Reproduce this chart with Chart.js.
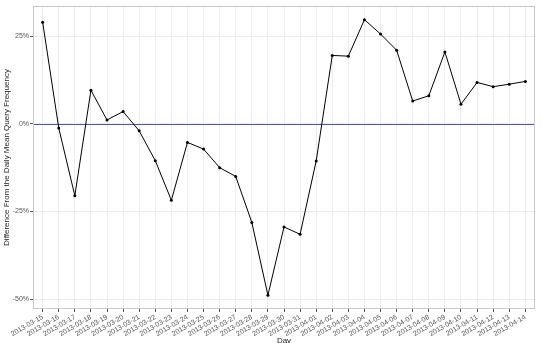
<!DOCTYPE html>
<html>
<head>
<meta charset="utf-8">
<script src="https://cdn.jsdelivr.net/npm/chart.js@4/dist/chart.umd.min.js"></script>
<style>
html,body{margin:0;padding:0;background:#fff;}
#wrap{width:542px;height:343px;position:relative;}
</style>
</head>
<body>
<div id="wrap"><canvas id="c" width="542" height="343"></canvas></div>
<script>
const days = ["2013-03-15","2013-03-16","2013-03-17","2013-03-18","2013-03-19","2013-03-20","2013-03-21","2013-03-22","2013-03-23","2013-03-24","2013-03-25","2013-03-26","2013-03-27","2013-03-28","2013-03-29","2013-03-30","2013-03-31","2013-04-01","2013-04-02","2013-04-03","2013-04-04","2013-04-05","2013-04-06","2013-04-07","2013-04-08","2013-04-09","2013-04-10","2013-04-11","2013-04-12","2013-04-13","2013-04-14"];
const diffPct = [29.0,-1.2,-20.5,9.6,1.1,3.5,-2.0,-10.5,-21.8,-5.3,-7.2,-12.5,-15.0,-28.1,-48.9,-29.4,-31.5,-10.6,19.5,19.3,29.7,25.6,21.0,6.5,8.0,20.5,5.6,11.8,10.6,11.3,12.1];
const yTicks = [-50,-25,0,25];
const refValue = 0;

const font = "'Liberation Sans', Arial, sans-serif";

const extras = {
  id:'extras',
  beforeDatasetsDraw(chart){
    const {ctx, chartArea:a, scales:{y}} = chart;
    ctx.save();
    const py = Math.round(y.getPixelForValue(refValue))+0.5;
    ctx.strokeStyle = '#4F4FD4';
    ctx.lineWidth = 1;
    ctx.beginPath(); ctx.moveTo(a.left, py); ctx.lineTo(a.right, py); ctx.stroke();
    ctx.restore();
  },
  afterDraw(chart){
    const {ctx, chartArea:a} = chart;
    ctx.save();
    ctx.strokeStyle = '#C8C8C8';
    ctx.lineWidth = 1;
    ctx.strokeRect(Math.round(a.left)+0.5, Math.round(a.top)+0.5, Math.round(a.right-a.left)-1, Math.round(a.bottom-a.top)-1);
    ctx.restore();
  }
};

new Chart(document.getElementById('c'), {
  type:'line',
  data:{
    datasets:[{
      data: diffPct.map((v,i)=>({x:i,y:v})),
      borderColor:'#000', backgroundColor:'#000',
      borderWidth:1, pointRadius:1.5, pointBorderWidth:0, tension:0
    }]
  },
  options:{
    responsive:false, animation:false,
    layout:{padding:{left:0,right:7,top:6,bottom:0}},
    plugins:{legend:{display:false}, tooltip:{enabled:false}},
    scales:{
      x:{
        type:'linear', min:-0.6, max:30.6,
        afterBuildTicks(s){ s.ticks = days.map((d,i)=>({value:i})); },
        afterFit(s){ s.height = 34; },
        ticks:{
          autoSkip:false, maxRotation:30, minRotation:30, padding:1,
          color:'#555', font:{family:font,size:7},
          callback:(v)=>days[v]
        },
        grid:{color:'#EBEBEB', lineWidth:1, tickLength:3, tickColor:'#555', drawTicks:true},
        border:{display:false},
        title:{display:true, text:'Day', color:'#222', font:{family:font,size:8}, padding:{top:0,bottom:-3}}
      },
      y:{
        min:-52.8, max:33.6,
        afterBuildTicks(s){ s.ticks = yTicks.map(v=>({value:v})); },
        afterFit(s){ s.width = 33; },
        ticks:{
          padding:1, color:'#555', font:{family:font,size:7},
          callback:(v)=>v+'%'
        },
        grid:{color:'#EBEBEB', lineWidth:1, tickLength:3, tickColor:'#555', drawTicks:true},
        border:{display:false},
        title:{display:true, text:'Difference From the Daily Mean Query Frequency', color:'#222', font:{family:font,size:8}, padding:{top:2,bottom:0}}
      }
    }
  },
  plugins:[extras]
});
</script>
</body>
</html>
